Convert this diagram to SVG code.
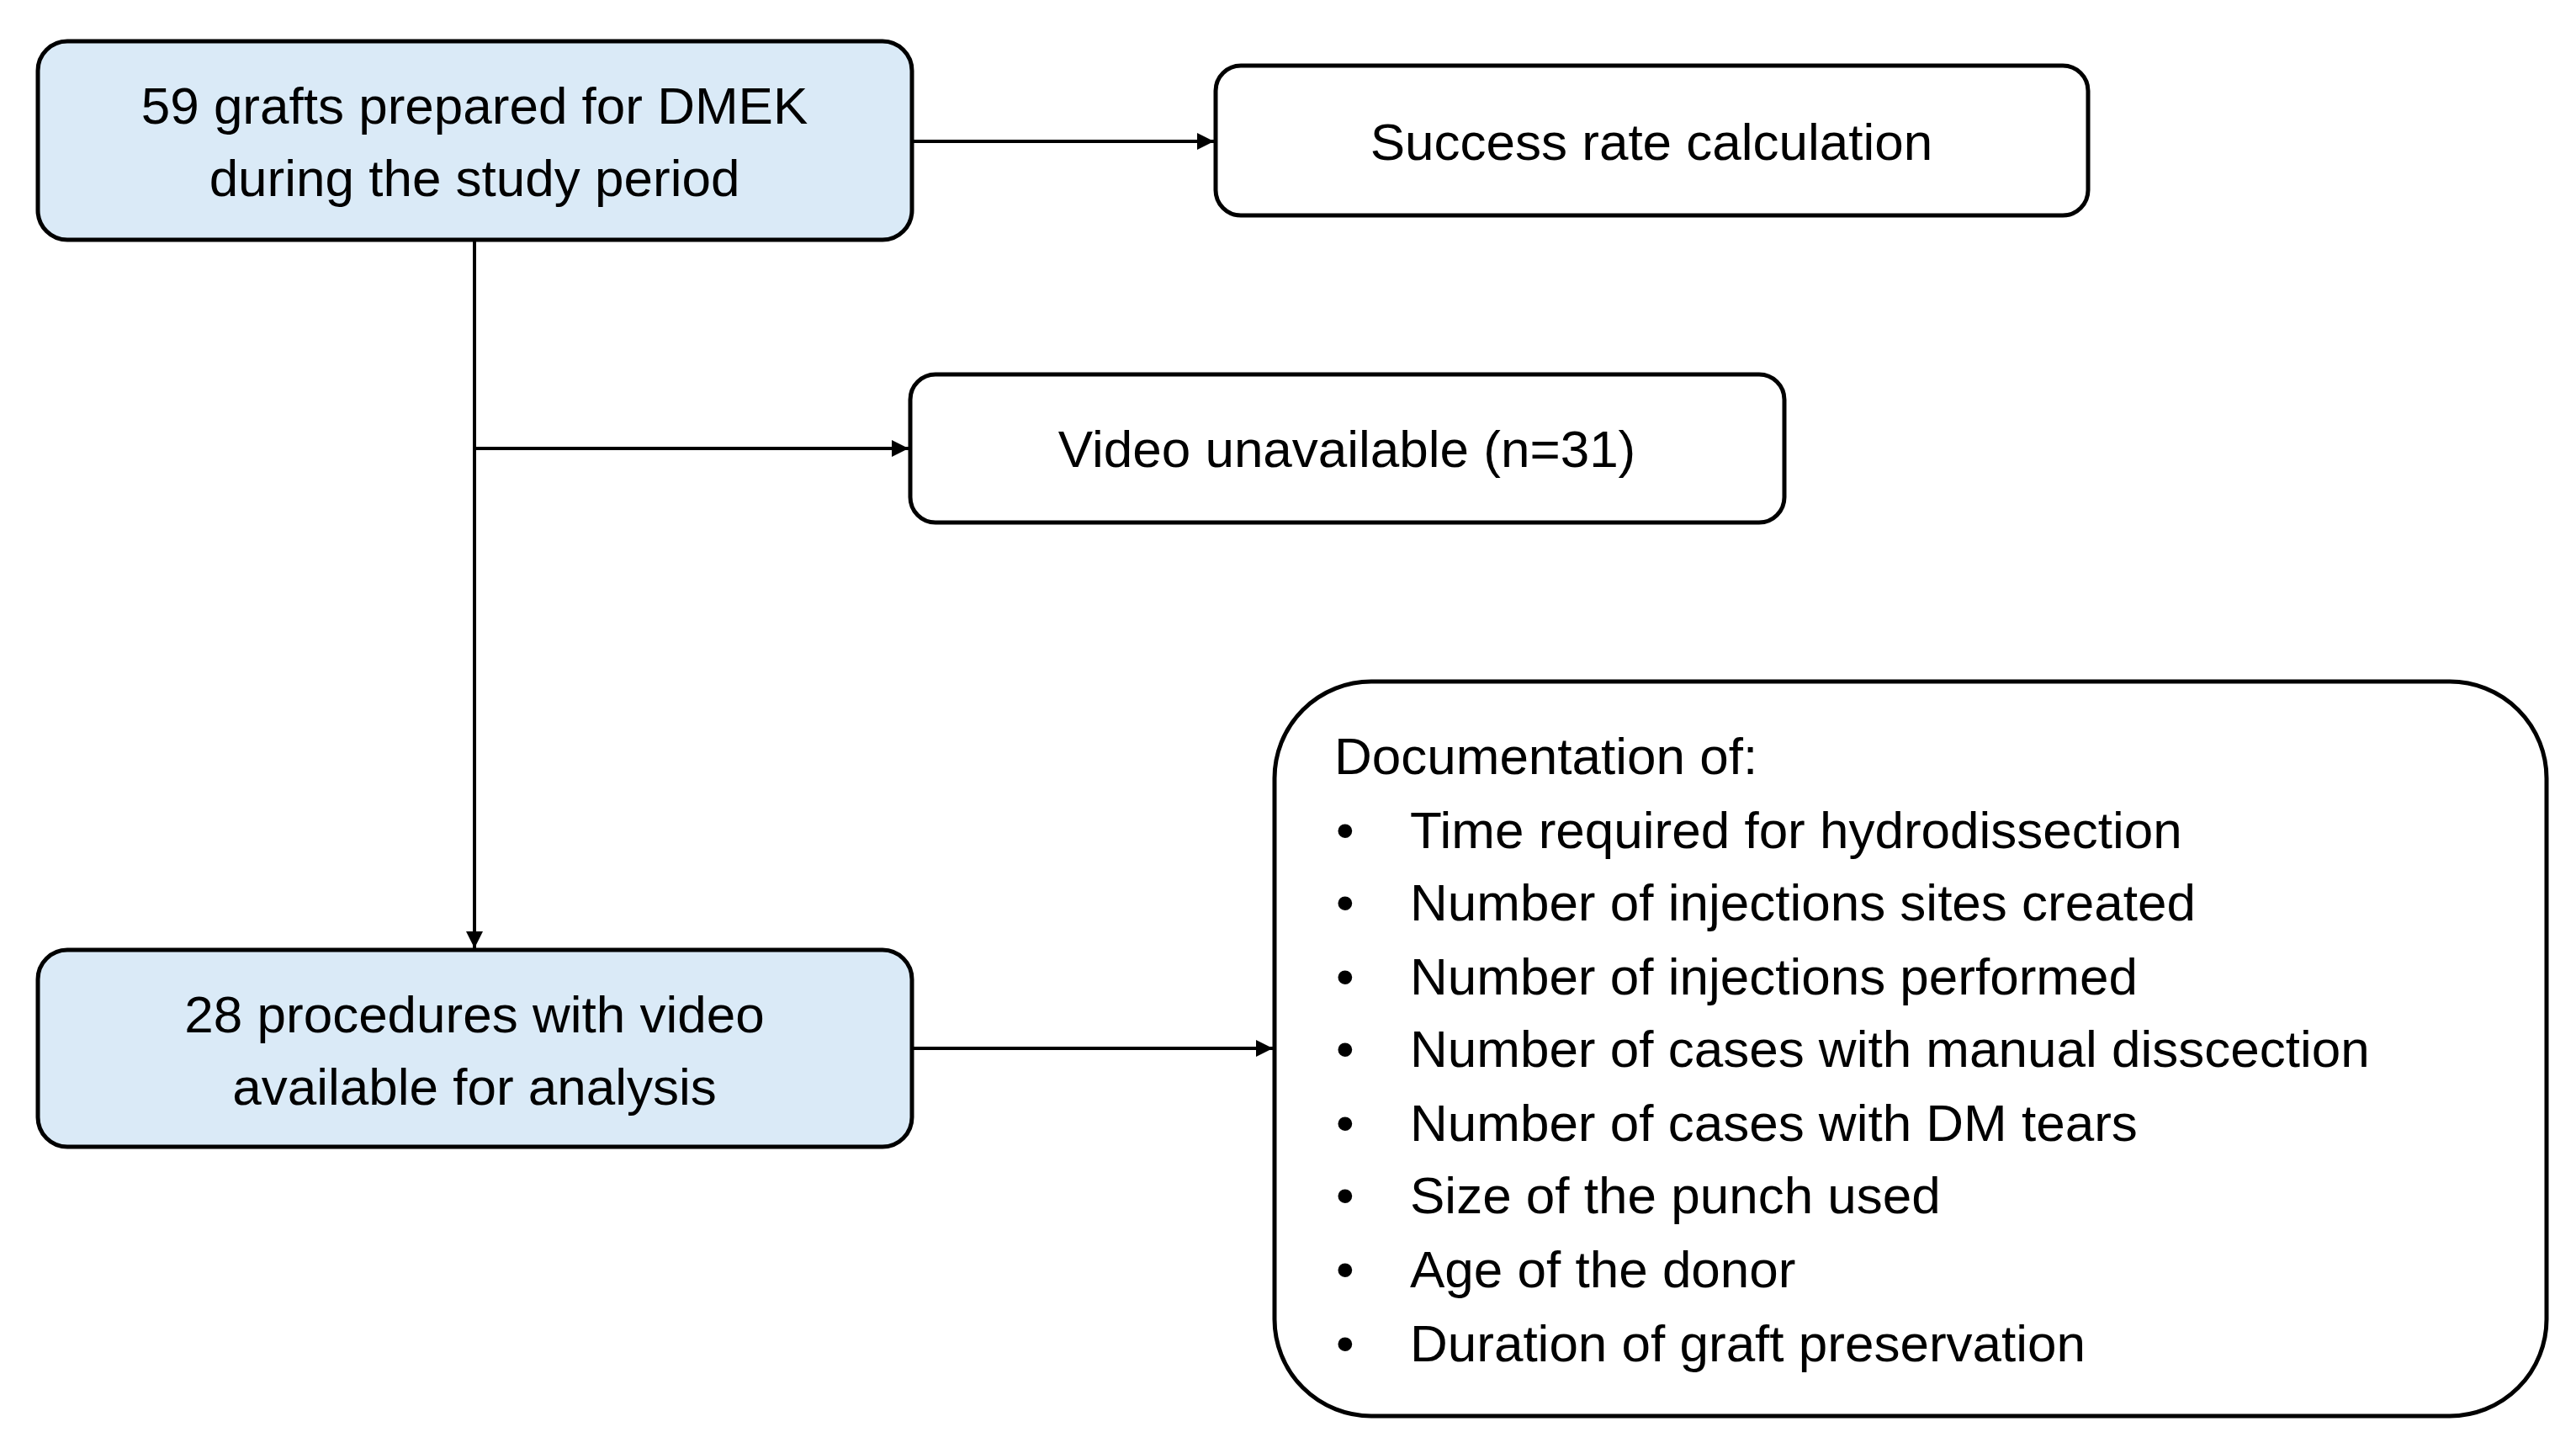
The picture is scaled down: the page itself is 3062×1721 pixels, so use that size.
<svg xmlns="http://www.w3.org/2000/svg" width="3062" height="1721" viewBox="0 0 3062 1721">
<style>
.b{fill:#fff;stroke:#000;stroke-width:5}
.blue{fill:#DAEAF7}
text{font-family:"Liberation Sans",Arial,sans-serif;font-size:62px;fill:#000}
.c{text-anchor:middle}
.l{stroke:#000;stroke-width:4;fill:none}
</style>
<defs><marker id="a" viewBox="0 0 10 10" refX="10" refY="5" markerWidth="5" markerHeight="5" orient="auto" markerUnits="strokeWidth"><path d="M0,0L10,5L0,10z" fill="#000"/></marker></defs>
<rect width="3062" height="1721" fill="#fff"/>
<g id="connectors">
<line class="l" x1="564" y1="285" x2="564" y2="1127" marker-end="url(#a)"/>
<line class="l" x1="1084" y1="168" x2="1443" y2="168" marker-end="url(#a)"/>
<line class="l" x1="564" y1="533" x2="1080" y2="533" marker-end="url(#a)"/>
<line class="l" x1="1084" y1="1246" x2="1513" y2="1246" marker-end="url(#a)"/>
</g>
<g id="n1"><rect class="b blue" x="45" y="49" width="1039" height="236" rx="35"/>
<text class="c" x="564" y="147">59 grafts prepared for DMEK</text><text class="c" x="564" y="233">during the study period</text></g>
<g id="n2"><rect class="b" x="1445" y="78" width="1037" height="178" rx="30"/>
<text class="c" x="1963" y="190">Success rate calculation</text></g>
<g id="n3"><rect class="b" x="1082" y="445" width="1039" height="176" rx="30"/>
<text class="c" x="1601" y="555">Video unavailable (n=31)</text></g>
<g id="n4"><rect class="b blue" x="45" y="1129" width="1039" height="234" rx="35"/>
<text class="c" x="564" y="1227">28 procedures with video</text><text class="c" x="564" y="1313">available for analysis</text></g>
<g id="n5"><rect class="b" x="1515" y="810" width="1512" height="873" rx="115"/>
<text x="1586" y="920">Documentation of:</text>
<g>
<text x="1588" y="1008">•</text><text x="1676" y="1008">Time required for hydrodissection</text>
<text x="1588" y="1094">•</text><text x="1676" y="1094">Number of injections sites created</text>
<text x="1588" y="1182">•</text><text x="1676" y="1182">Number of injections performed</text>
<text x="1588" y="1268">•</text><text x="1676" y="1268">Number of cases with manual disscection</text>
<text x="1588" y="1356">•</text><text x="1676" y="1356">Number of cases with DM tears</text>
<text x="1588" y="1442">•</text><text x="1676" y="1442">Size of the punch used</text>
<text x="1588" y="1530">•</text><text x="1676" y="1530">Age of the donor</text>
<text x="1588" y="1618">•</text><text x="1676" y="1618">Duration of graft preservation</text>
</g></g>
</svg>
